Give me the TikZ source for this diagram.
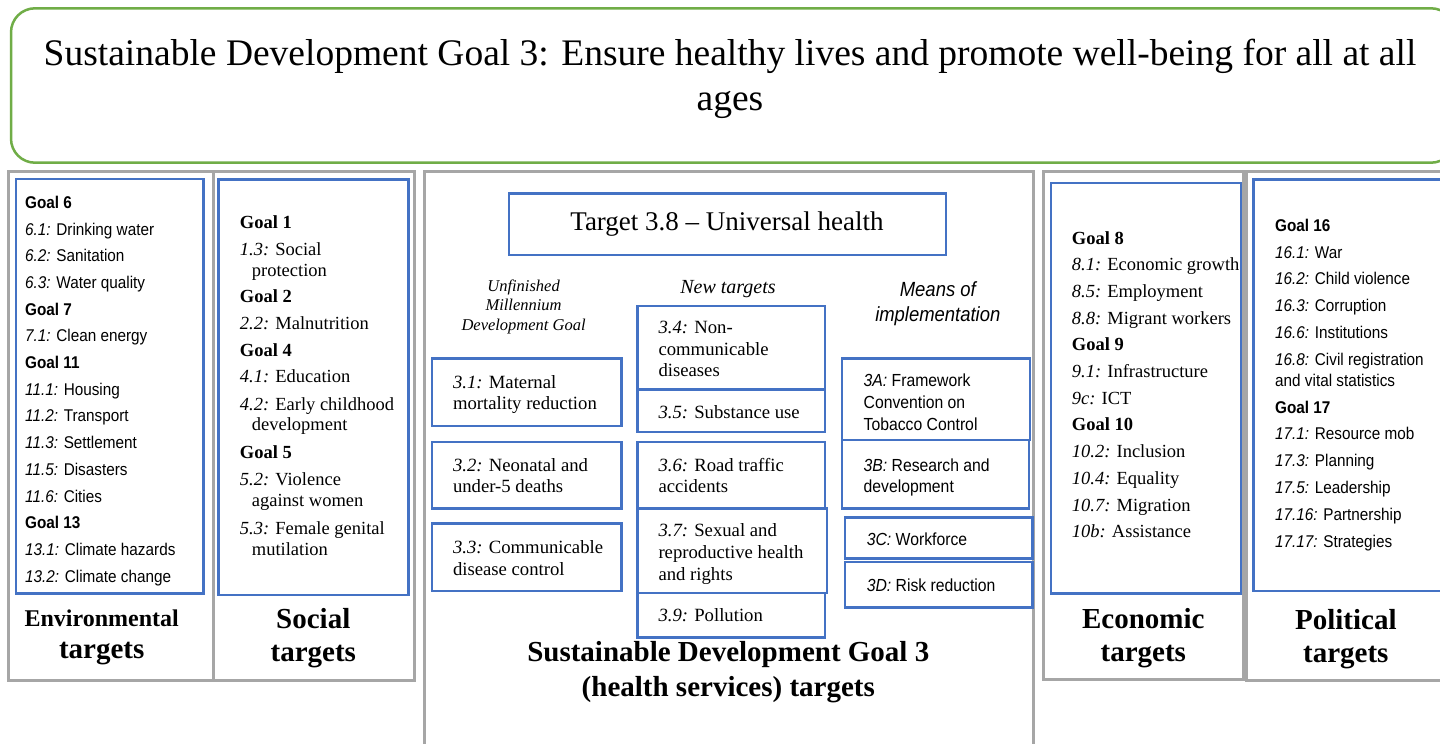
\documentclass[tikz,border=0pt]{standalone}
\usepackage{fontspec}
\setmainfont{Liberation Serif}
\setsansfont[FakeStretch=0.9]{Liberation Sans}
\definecolor{sdgblue}{HTML}{4472C4}
\definecolor{sdggreen}{HTML}{70AD47}
\definecolor{sdggray}{HTML}{A6A6A6}
\newcommand{\tnum}[1]{\textit{#1:}}

\begin{document}
\begin{tikzpicture}[x=1pt,y=-1pt,
  greenbox/.style={draw=sdggreen,line width=2.5pt,rounded corners=24pt},
  graybox/.style={draw=sdggray,line width=3pt},
  bluebox/.style={draw=sdgblue,line width=2.4pt},
  arialtxt/.style={anchor=base west,inner sep=0pt,font=\sffamily\fontsize{17}{20}\selectfont},
  timestxt/.style={anchor=base west,inner sep=0pt,font=\fontsize{18.5}{21}\selectfont},
  boxtxt/.style={anchor=base west,inner sep=0pt,font=\fontsize{18.7}{21}\selectfont},
  boxsans/.style={anchor=base west,inner sep=0pt,font=\sffamily\fontsize{17.5}{20}\selectfont},
  headtxt/.style={anchor=base,inner sep=0pt,font=\bfseries\fontsize{29}{33}\selectfont}]
  \useasboundingbox (0,0) rectangle (1440,744);
  \clip (0,0) rectangle (1440,744);
  \fill[white] (0,0) rectangle (1440,744);

  \draw[greenbox] (11,8.3) rectangle (1455,162.7);
  \node[anchor=base,inner sep=0pt,font=\fontsize{37.5}{45}\selectfont] (title1) at (730,65)
    {Sustainable Development Goal 3: Ensure healthy lives and promote well-being for all at all};
  \node[anchor=base,inner sep=0pt,font=\fontsize{37.5}{45}\selectfont] (title2) at (730,110) {ages};

  \draw[graybox] (8,171.7) rectangle (213,680);
  \draw[graybox] (213,171.7) rectangle (414,680);
  \draw[graybox] (424,171.7) rectangle (1033,760);
  \draw[graybox] (1043,171.7) rectangle (1243,679.3);
  \draw[graybox] (1246.5,171.7) rectangle (1460,680.7);

  \foreach \a/\b/\c/\d in {16/179/203.5/593.3, 218.3/179.3/408.5/595, 1050.7/182.7/1240.7/593.3,
    1253.3/179.3/1460/590.7, 509/193.3/945.7/255,
    432/358.3/621.6/425.7, 432/441.7/621.6/508.3, 432/523.3/621.6/590.7,
    637.4/305.7/825/389.3, 637.4/389.3/825/431.7, 637.4/441.7/825/508.3,
    637.4/508.3/827/592.7, 637.4/592.7/825/637.3,
    842/358.3/1030/440, 842/440/1028.7/508.3, 845/517.3/1032.6/558.3, 845/561.7/1032.6/607.3}
    \draw[bluebox] (\a,\b) rectangle (\c,\d);

  \foreach \t [count=\i from 0] in {{\textbf{Goal 6}}, {\tnum{6.1} Drinking water}, {\tnum{6.2} Sanitation},
    {\tnum{6.3} Water quality}, {\textbf{Goal 7}}, {\tnum{7.1} Clean energy}, {\textbf{Goal 11}},
    {\tnum{11.1} Housing}, {\tnum{11.2} Transport}, {\tnum{11.3} Settlement}, {\tnum{11.5} Disasters},
    {\tnum{11.6} Cities}, {\textbf{Goal 13}}, {\tnum{13.1} Climate hazards}, {\tnum{13.2} Climate change}}
    \node[arialtxt] (env\i) at (25,{208.3+26.7*\i}) {\t};

  \foreach \x/\y/\t [count=\i] in {239.7/228.3/{\textbf{Goal 1}}, 239.7/255/{\tnum{1.3} Social},
    251.7/276/{protection}, 239.7/302.7/{\textbf{Goal 2}}, 239.7/329.3/{\tnum{2.2} Malnutrition},
    239.7/356.7/{\textbf{Goal 4}}, 239.7/382.7/{\tnum{4.1} Education}, 239.7/410/{\tnum{4.2} Early childhood},
    251.7/430.7/{development}, 239.7/458.3/{\textbf{Goal 5}}, 239.7/485/{\tnum{5.2} Violence},
    251.7/506/{against women}, 239.7/534/{\tnum{5.3} Female genital}, 251.7/555/{mutilation}}
    \node[timestxt] (soc\i) at (\x,\y) {\t};

  \foreach \t [count=\i from 0] in {{\textbf{Goal 8}}, {\tnum{8.1} Economic growth}, {\tnum{8.5} Employment},
    {\tnum{8.8} Migrant workers}, {\textbf{Goal 9}}, {\tnum{9.1} Infrastructure}, {\tnum{9c} ICT},
    {\textbf{Goal 10}}, {\tnum{10.2} Inclusion}, {\tnum{10.4} Equality}, {\tnum{10.7} Migration},
    {\tnum{10b} Assistance}}
    \node[timestxt] (eco\i) at (1071.7,{244+26.7*\i}) {\t};

  \foreach \y/\t [count=\i] in {231.7/{\textbf{Goal 16}}, 258.3/{\tnum{16.1} War}, 284.3/{\tnum{16.2} Child violence},
    311.7/{\tnum{16.3} Corruption}, 338.3/{\tnum{16.6} Institutions}, 365.7/{\tnum{16.8} Civil registration},
    386/{and vital statistics}, 413.3/{\textbf{Goal 17}}, 439.3/{\tnum{17.1} Resource mob},
    466.7/{\tnum{17.3} Planning}, 493.3/{\tnum{17.5} Leadership}, 520.7/{\tnum{17.16} Partnership},
    547.3/{\tnum{17.17} Strategies}}
    \node[arialtxt] (pol\i) at (1275,\y) {\t};

  \node[anchor=base,inner sep=0pt,font=\fontsize{27}{30}\selectfont] (target) at (727,230)
    {Target 3.8 -- Universal health};
  \node[anchor=base,inner sep=0pt,font=\itshape\fontsize{16.5}{19}\selectfont] (mdg1) at (523.6,291.7) {Unfinished};
  \node[anchor=base,inner sep=0pt,font=\itshape\fontsize{16.5}{19}\selectfont] (mdg2) at (523.6,310) {Millennium};
  \node[anchor=base,inner sep=0pt,font=\itshape\fontsize{16.5}{19}\selectfont] (mdg3) at (523.6,330.7) {Development Goal};
  \node[anchor=base,inner sep=0pt,font=\itshape\fontsize{20}{22}\selectfont] (newt) at (728,293.3) {New targets};
  \node[anchor=base,inner sep=0pt,font=\sffamily\itshape\fontsize{20.5}{23}\selectfont] (moi1) at (937.8,296.7) {Means of};
  \node[anchor=base,inner sep=0pt,font=\sffamily\itshape\fontsize{20.5}{23}\selectfont] (moi2) at (937.8,321.7) {implementation};

  \foreach \x/\y/\t [count=\i] in {452.8/388.3/{\tnum{3.1} Maternal}, 452.8/409.3/{mortality reduction},
    452.8/471.7/{\tnum{3.2} Neonatal and}, 452.8/492.3/{under-5 deaths},
    452.8/553.3/{\tnum{3.3} Communicable}, 452.8/575/{disease control},
    658.3/333.3/{\tnum{3.4} Non-}, 658.3/355/{communicable}, 658.3/376.7/{diseases},
    658.3/418.3/{\tnum{3.5} Substance use},
    658.3/471.7/{\tnum{3.6} Road traffic}, 658.3/492.3/{accidents},
    658.3/536.7/{\tnum{3.7} Sexual and}, 658.3/558.3/{reproductive health}, 658.3/580/{and rights},
    658.3/621.7/{\tnum{3.9} Pollution}}
    \node[boxtxt] (tgt\i) at (\x,\y) {\t};

  \foreach \x/\y/\t [count=\i] in {863.5/386.7/{\tnum{3A} Framework}, 863.5/408.3/{Convention on},
    863.5/430/{Tobacco Control}, 863.5/471.7/{\tnum{3B} Research and}, 863.5/492.7/{development},
    866.6/545/{\tnum{3C} Workforce}, 866.6/591.7/{\tnum{3D} Risk reduction}}
    \node[boxsans] (moi\i) at (\x,\y) {\t};

  \node[headtxt,font=\bfseries\fontsize{24}{28}\selectfont] (envlab) at (101.7,626) {Environmental};
  \node[headtxt] (envlab2) at (101.7,658.3) {targets};
  \node[headtxt] (soclab) at (313.3,628.3) {Social};
  \node[headtxt] (soclab2) at (313.3,661.7) {targets};
  \node[headtxt] (sdglab) at (728.3,661.7) {Sustainable Development Goal 3};
  \node[headtxt] (sdglab2) at (728.3,696.7) {(health services) targets};
  \node[headtxt] (ecolab) at (1143.3,628.3) {Economic};
  \node[headtxt] (ecolab2) at (1143.3,661.7) {targets};
  \node[headtxt] (pollab) at (1345.8,629.3) {Political};
  \node[headtxt] (pollab2) at (1345.8,662.7) {targets};
\end{tikzpicture}
\end{document}
